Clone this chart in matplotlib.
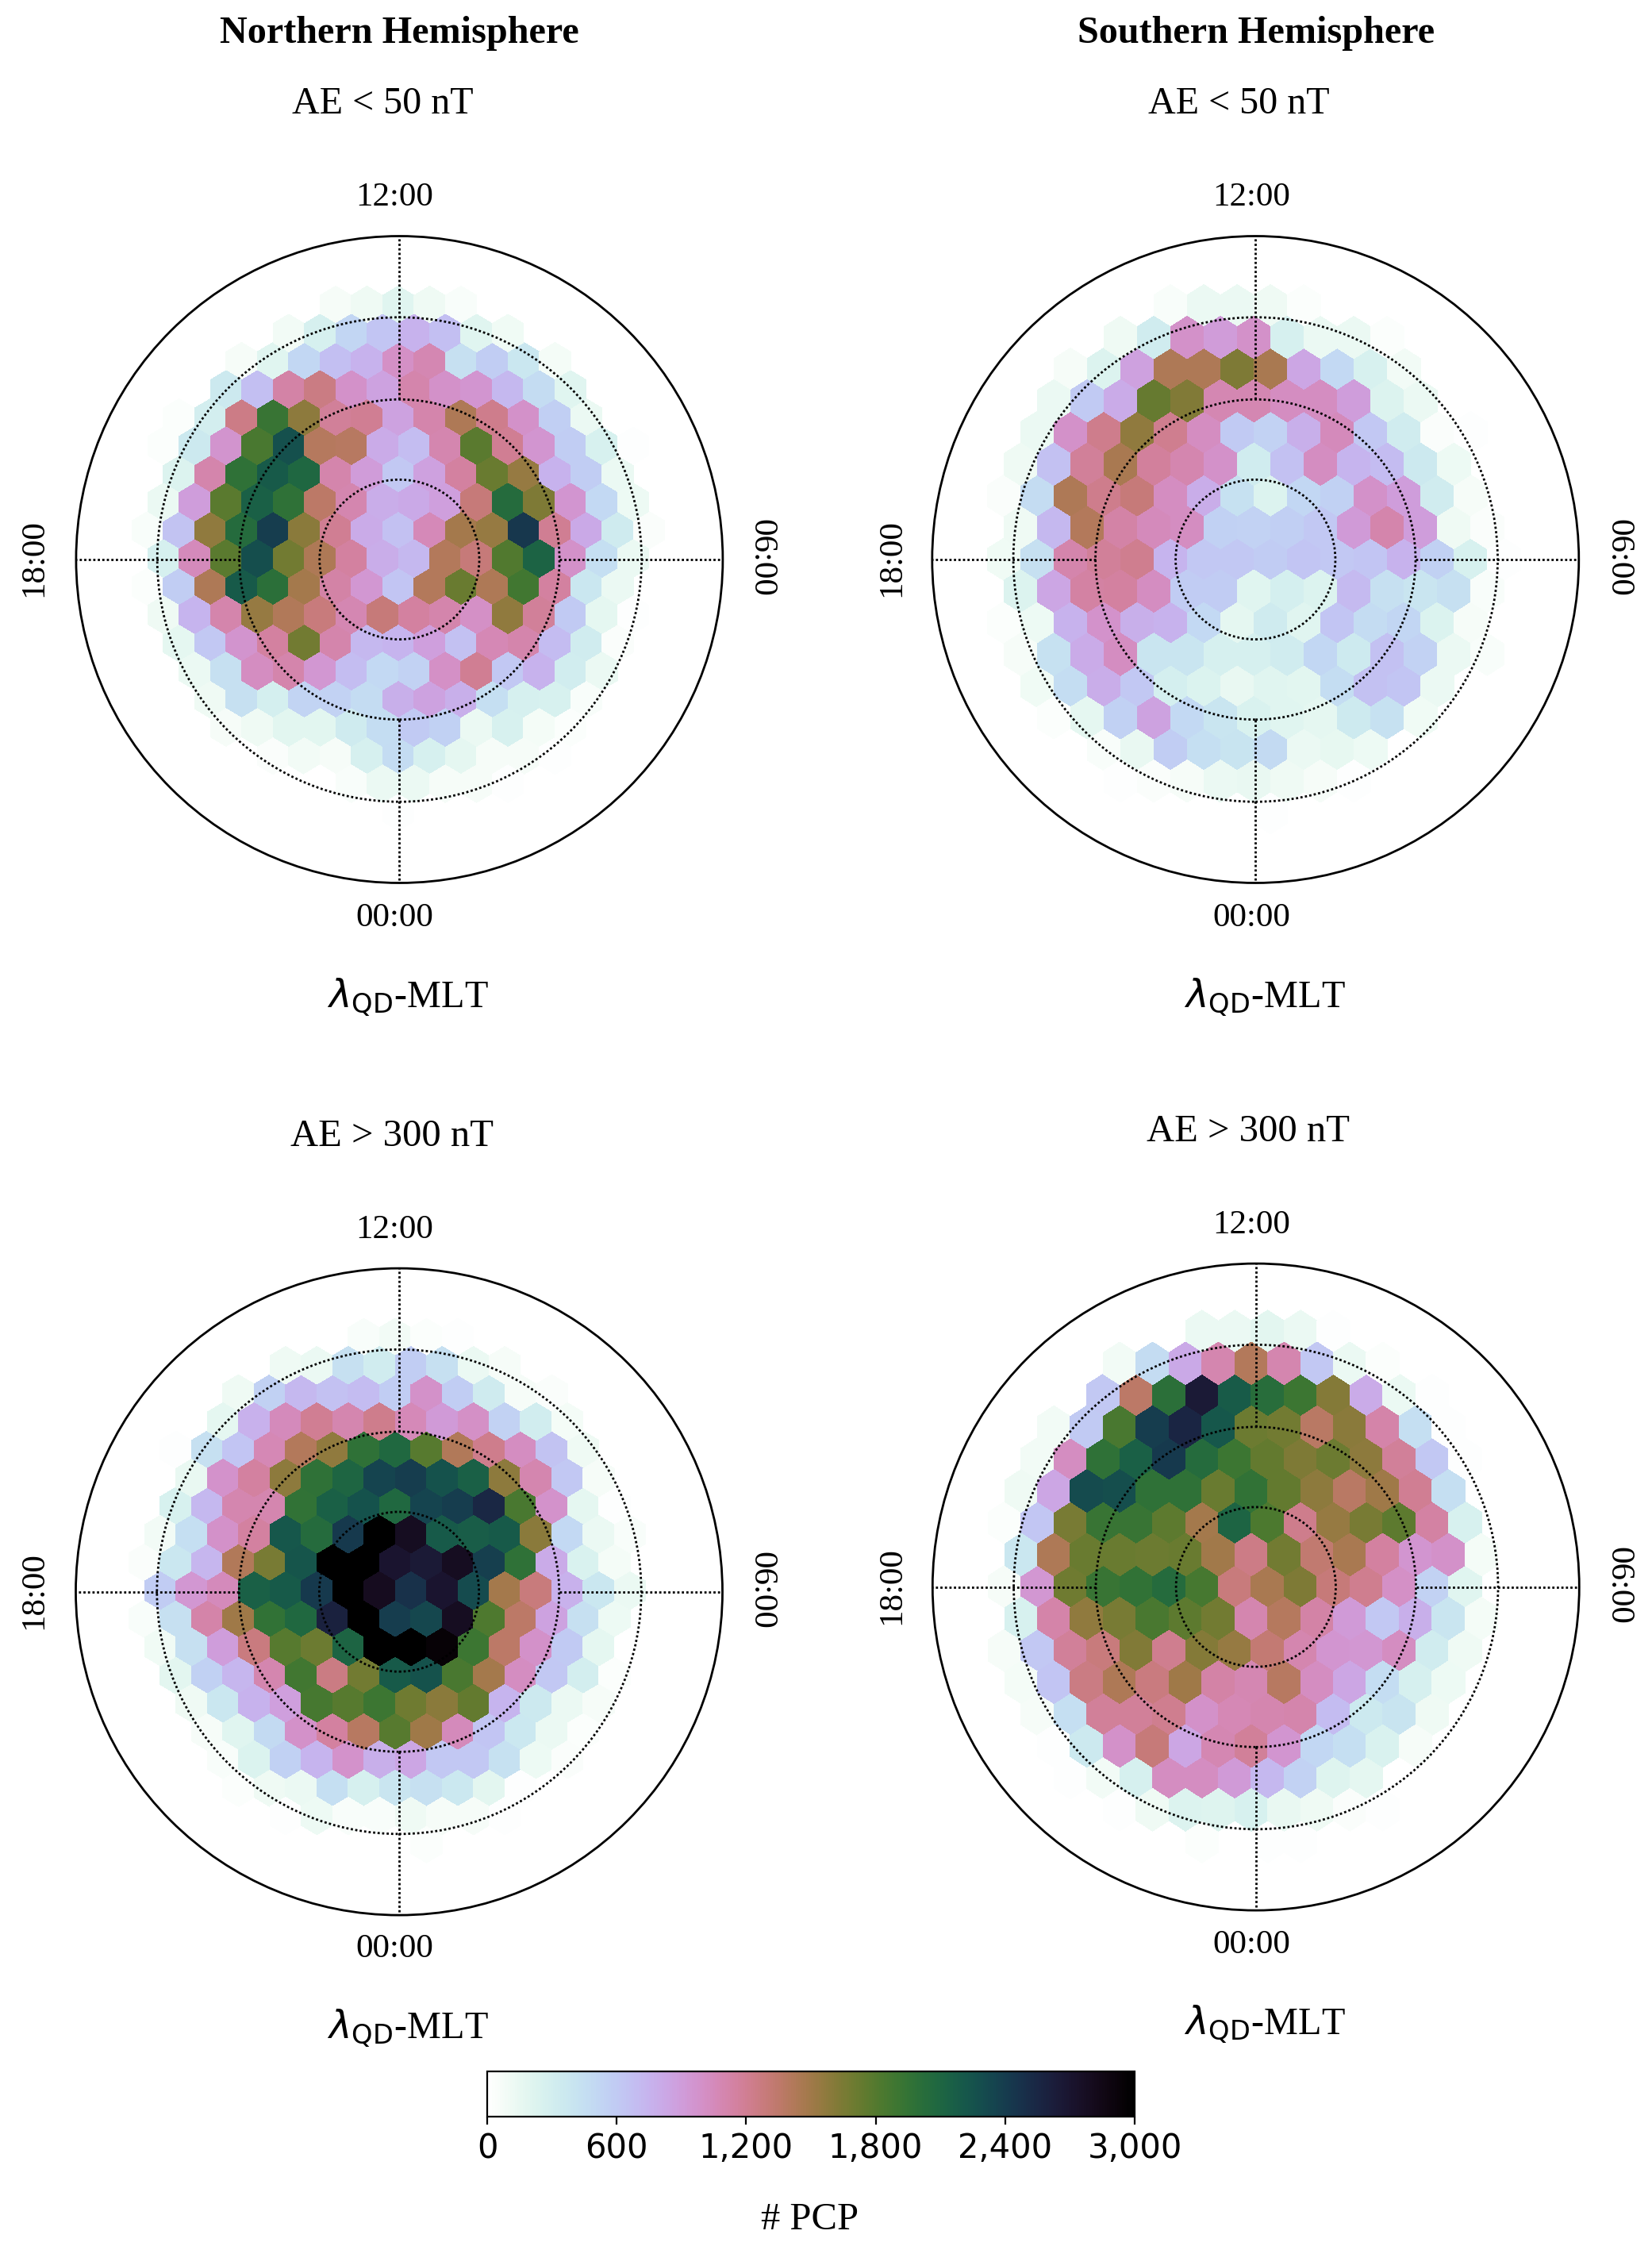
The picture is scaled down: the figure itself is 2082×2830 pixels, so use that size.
import matplotlib
matplotlib.use('Agg')
import matplotlib.pyplot as plt
from matplotlib.patches import Circle
from matplotlib.ticker import FuncFormatter
import numpy as np

plt.rcParams['font.family'] = ['Liberation Serif', 'DejaVu Sans']
plt.rcParams['mathtext.fontset'] = 'dejavusans'

FIG_W, FIG_H = 2082, 2830
RADIUS = 407.5
DOTTED = (0, (1, 1.05))

# number of PCP per hexagon, row by row from the top of each panel
# even rows start half a cell to the left of the odd rows
north_quiet = [
    [0, 0, 0, 0, 0, 0, 0, 60, 110, 200, 110, 50],
    [0, 0, 0, 0, 0, 90, 270, 520, 640, 750, 670, 200, 100],
    [0, 0, 0, 0, 70, 210, 505, 670, 760, 1000, 1080, 445, 580, 375, 80],
    [0, 0, 0, 355, 670, 1130, 1260, 990, 860, 1110, 990, 960, 720, 475, 200],
    [0, 0, 30, 295, 1250, 1930, 1580, 1180, 1200, 860, 1110, 1440, 1230, 990, 570, 130],
    [0, 30, 355, 970, 1840, 2270, 1400, 1390, 800, 690, 1090, 1780, 1200, 960, 580, 260, 20],
    [0, 0, 230, 1110, 1980, 2200, 2090, 1110, 910, 620, 870, 1160, 1720, 1540, 760, 580, 140],
    [0, 130, 900, 1780, 2150, 1980, 1360, 1090, 790, 810, 880, 1290, 2050, 1640, 960, 495, 120],
    [0, 50, 650, 1560, 2050, 2400, 1590, 1200, 800, 660, 1060, 1480, 1540, 2430, 1200, 820, 335, 40],
    [0, 280, 1050, 1780, 2280, 1680, 1430, 1150, 790, 720, 1410, 1290, 1810, 2130, 990, 455, 130],
    [0, 30, 580, 1430, 2200, 2000, 1480, 1130, 940, 640, 1410, 1720, 1440, 1880, 1150, 375, 130],
    [0, 110, 740, 1110, 1540, 1420, 1280, 1080, 1300, 1160, 1110, 1000, 1570, 1180, 600, 170, 20],
    [0, 0, 170, 620, 970, 1150, 1680, 1110, 720, 740, 890, 660, 1070, 1110, 700, 325, 40],
    [0, 0, 140, 445, 1030, 1110, 940, 680, 495, 540, 1000, 1200, 620, 750, 315, 130],
    [0, 0, 0, 110, 445, 290, 530, 540, 475, 780, 860, 780, 455, 280, 260, 50],
    [0, 0, 0, 70, 110, 190, 190, 335, 465, 600, 560, 130, 260, 80, 30],
    [0, 0, 0, 0, 0, 40, 90, 60, 280, 475, 270, 170, 60, 60, 20],
    [0, 0, 0, 0, 0, 0, 10, 50, 130, 130, 60, 60, 20],
    [0, 0, 0, 0, 0, 0, 0, 0, 0, 20],
]

south_quiet = [
    [0, 0, 0, 0, 0, 0, 50, 130, 130, 110, 30],
    [0, 0, 0, 0, 110, 325, 990, 910, 990, 280, 130, 130, 25],
    [0, 0, 0, 60, 230, 870, 1430, 1430, 1640, 1460, 840, 495, 260, 90],
    [0, 0, 130, 600, 800, 1730, 1620, 1080, 1080, 1030, 1030, 900, 230, 130],
    [0, 0, 130, 990, 1230, 1560, 1210, 1020, 600, 540, 780, 1050, 610, 325, 40, 20],
    [0, 110, 660, 1180, 1460, 1170, 1090, 990, 325, 660, 1030, 740, 700, 355, 120],
    [0, 40, 475, 1430, 1230, 1290, 1030, 790, 425, 230, 505, 560, 990, 900, 325, 70],
    [0, 110, 720, 1410, 1130, 1050, 1020, 560, 540, 570, 620, 920, 1110, 900, 110, 40],
    [0, 100, 445, 1110, 1180, 1210, 740, 620, 620, 590, 640, 620, 640, 760, 560, 260, 15],
    [0, 230, 840, 1140, 1150, 1030, 590, 590, 200, 285, 230, 710, 445, 395, 445, 50],
    [0, 30, 120, 750, 980, 780, 750, 495, 170, 335, 200, 640, 475, 520, 240, 60],
    [0, 70, 425, 800, 1020, 395, 395, 280, 270, 325, 505, 345, 660, 550, 130, 50],
    [0, 0, 100, 465, 790, 620, 290, 240, 150, 200, 190, 465, 660, 640, 130],
    [0, 0, 30, 170, 560, 860, 495, 395, 250, 210, 170, 345, 425, 100],
    [0, 0, 0, 0, 50, 150, 580, 455, 405, 485, 130, 160, 120],
    [0, 0, 0, 0, 15, 40, 70, 130, 150, 110, 60, 20],
    [0, 0, 0, 0, 0, 0, 0, 0, 0, 15],
]

north_active = [
    [0, 0, 0, 0, 0, 0, 0, 0, 50, 90, 25, 15],
    [0, 0, 0, 0, 0, 110, 140, 445, 325, 580, 445, 130, 60],
    [0, 0, 0, 0, 110, 560, 720, 660, 700, 580, 990, 580, 335, 70, 40],
    [0, 0, 0, 170, 770, 1050, 1200, 1090, 1230, 1060, 920, 1000, 550, 305, 80],
    [0, 0, 15, 445, 640, 1070, 1410, 1570, 1980, 2080, 1790, 1420, 1230, 1030, 650, 110],
    [0, 0, 150, 980, 1160, 1580, 1980, 2100, 2350, 2400, 2250, 2150, 1580, 1100, 620, 70],
    [0, 0, 260, 720, 1090, 1090, 1960, 2150, 2250, 2080, 2350, 2400, 2550, 1850, 980, 170, 20],
    [0, 90, 455, 990, 1160, 2220, 2050, 2420, 3000, 2780, 2200, 2170, 2200, 1590, 495, 130, 50],
    [0, 40, 375, 730, 1420, 1660, 2230, 3000, 3000, 2700, 2650, 2780, 2380, 1980, 800, 250, 80],
    [0, 590, 940, 1050, 2150, 2200, 2420, 3000, 2800, 2480, 2700, 2300, 1480, 1280, 770, 375, 130],
    [0, 50, 445, 1120, 1510, 1960, 2080, 2600, 3000, 2400, 2330, 2780, 1820, 1370, 860, 445, 120],
    [0, 100, 445, 900, 1270, 1790, 1700, 2120, 3000, 3000, 2950, 1900, 1370, 990, 600, 170, 10],
    [0, 0, 180, 560, 730, 1090, 1880, 1260, 1680, 2200, 2250, 1850, 1480, 1030, 620, 295, 30],
    [0, 0, 110, 375, 750, 890, 1860, 1790, 1900, 1690, 1590, 1740, 740, 355, 140, 70],
    [0, 0, 0, 70, 200, 485, 990, 1160, 1390, 1790, 1510, 1050, 640, 365, 130, 25],
    [0, 0, 0, 50, 240, 560, 740, 980, 780, 840, 610, 620, 425, 120, 40],
    [0, 0, 0, 0, 30, 110, 130, 455, 270, 395, 445, 365, 180, 20],
    [0, 0, 0, 0, 0, 15, 120, 50, 50, 110, 70, 70, 20],
    [0, 0, 0, 0, 0, 0, 0, 0, 0, 0, 30],
]

south_active = [
    [0, 0, 0, 0, 0, 0, 0, 130, 130, 180, 130, 20],
    [0, 0, 0, 0, 90, 475, 810, 1100, 1410, 1100, 620, 130, 25],
    [0, 0, 0, 0, 620, 1360, 2000, 2650, 2180, 2020, 1900, 1610, 800, 130, 15],
    [0, 0, 90, 600, 1840, 2400, 2560, 2220, 1700, 1680, 1380, 1590, 1120, 455, 15],
    [0, 0, 90, 1030, 1980, 2150, 2420, 2050, 1900, 1740, 1640, 1710, 1580, 1180, 620, 15],
    [0, 110, 840, 2300, 2280, 1980, 1980, 1720, 1960, 1740, 1580, 1380, 1510, 1200, 455],
    [0, 30, 630, 1660, 1930, 1930, 1760, 1480, 2120, 1830, 1230, 1540, 1660, 1760, 1140, 260],
    [0, 385, 1440, 1720, 1720, 1710, 1720, 1490, 1250, 1680, 1330, 1460, 1160, 960, 990, 80],
    [0, 60, 940, 1690, 1930, 1960, 2050, 1860, 1280, 1460, 1640, 1300, 1210, 1000, 550, 210],
    [0, 260, 1120, 1560, 1660, 1850, 1760, 1680, 1090, 1400, 1130, 920, 610, 780, 395, 80],
    [0, 60, 620, 1180, 1280, 1620, 1210, 1610, 1540, 1320, 1090, 960, 940, 1030, 325, 110],
    [0, 80, 640, 1260, 1440, 1270, 1510, 1130, 1080, 1390, 1030, 840, 465, 270, 120],
    [0, 0, 70, 455, 1180, 1180, 1210, 990, 1070, 1090, 1110, 700, 355, 405, 110],
    [0, 0, 20, 355, 990, 1300, 840, 1080, 1180, 960, 505, 455, 250, 70],
    [0, 0, 0, 15, 90, 270, 1030, 1030, 920, 720, 550, 220, 170],
    [0, 0, 0, 0, 15, 110, 230, 220, 260, 150, 110, 40, 15],
    [0, 0, 0, 0, 0, 0, 0, 25, 0, 20, 20],
]

ring_radii = [0.247, 0.495, 0.749]
cbar_ticks = [0, 600, 1200, 1800, 2400, 3000]


def px_axes(cx, cy, half):
    return fig.add_axes([(cx - half) / FIG_W, 1 - (cy + half) / FIG_H, 2 * half / FIG_W, 2 * half / FIG_H])


def label(x, y, s, **kw):
    return fig.text(x / FIG_W, 1 - y / FIG_H, s, ha='center', va='center', **kw)


def draw_panel(rows, cx, cy, x_first, dx, y_first, dy):
    ax = px_axes(cx, cy, RADIUS)
    xs, ys, vals = [], [], []
    for r, row in enumerate(rows):
        for i, v in enumerate(row):
            if v > 0:
                xs.append(x_first + i * dx + (r % 2) * dx / 2)
                ys.append(y_first - r * dy)
                vals.append(v)
    nx, ny = 25, 14
    xmin = x_first - 2 * dx
    ymin = y_first - 24 * dy
    ax.hexbin(xs, ys, C=vals, gridsize=(nx, ny), extent=(xmin, xmin + nx * dx, ymin, ymin + ny * 2 * dy),
              cmap='cubehelix_r', vmin=0, vmax=3000, linewidths=0, edgecolors='none', antialiaseds=False)
    for r in ring_radii:
        ax.add_patch(Circle((0, 0), r, fill=False, ec='k', lw=1.0, ls=DOTTED))
    inner = ring_radii[1]
    ax.plot([0, 0], [inner, 1], color='k', lw=1.0, ls=DOTTED)
    ax.plot([0, 0], [-inner, -1], color='k', lw=1.0, ls=DOTTED)
    ax.plot([inner, 1], [0, 0], color='k', lw=1.0, ls=DOTTED)
    ax.plot([-inner, -1], [0, 0], color='k', lw=1.0, ls=DOTTED)
    ax.add_patch(Circle((0, 0), 1, fill=False, ec='k', lw=1.0, clip_on=False))
    ax.set_xlim(-1, 1)
    ax.set_ylim(-1, 1)
    ax.axis('off')
    return ax


fig = plt.figure(figsize=(FIG_W / 200, FIG_H / 200), dpi=200)

draw_panel(north_quiet, 503.4, 705, -0.8755, 0.0969, 0.7873, 0.0871)
draw_panel(south_quiet, 1582.3, 705, -0.8816, 0.1031, 0.7847, 0.0980)
draw_panel(north_active, 503, 2005.6, -0.8843, 0.0969, 0.7873, 0.0871)
draw_panel(south_active, 1582.8, 1999.6, -0.8789, 0.1017, 0.7900, 0.0986)

label(503, 42, 'Northern Hemisphere', fontsize=17.4, fontweight='bold')
label(1583, 42, 'Southern Hemisphere', fontsize=17.4, fontweight='bold')
label(482, 131, 'AE < 50 nT', fontsize=17.3)
label(1561, 131, 'AE < 50 nT', fontsize=17.3)
label(494, 1432, 'AE > 300 nT', fontsize=17.5)
label(1573, 1426, 'AE > 300 nT', fontsize=17.5)

for tx, top, bot, mlt, side_l, side_r, side_y in [
        (497, 249, 1157, 1257, 43, 960, 703),
        (1577, 249, 1157, 1257, 1124, 2040, 703),
        (497, 1550, 2456, 2556, 43, 960, 2004),
        (1577, 1544, 2451, 2551, 1124, 2040, 1998)]:
    label(tx, top, '12:00', fontsize=15.5)
    label(tx, bot, '00:00', fontsize=15.5)
    label(tx + 17, mlt, r'$\lambda_{\mathrm{QD}}$-MLT', fontsize=17.4)
    label(side_l, side_y, '18:00', fontsize=15.5, rotation=90)
    label(side_r, side_y, '06:00', fontsize=15.5, rotation=-90)

cax = fig.add_axes([614 / FIG_W, 1 - 2667 / FIG_H, (1430 - 614) / FIG_W, 57 / FIG_H])
sm = plt.cm.ScalarMappable(norm=plt.Normalize(0, 3000), cmap='cubehelix_r')
cb = fig.colorbar(sm, cax=cax, orientation='horizontal', ticks=cbar_ticks,
                  format=FuncFormatter(lambda v, p: '{:,.0f}'.format(v)))
cb.ax.tick_params(labelsize=15)
for t in cb.ax.get_xticklabels():
    t.set_fontfamily('DejaVu Sans')
label(1021, 2797, '# PCP', fontsize=17.5)

fig.savefig('out.png', dpi=200)
